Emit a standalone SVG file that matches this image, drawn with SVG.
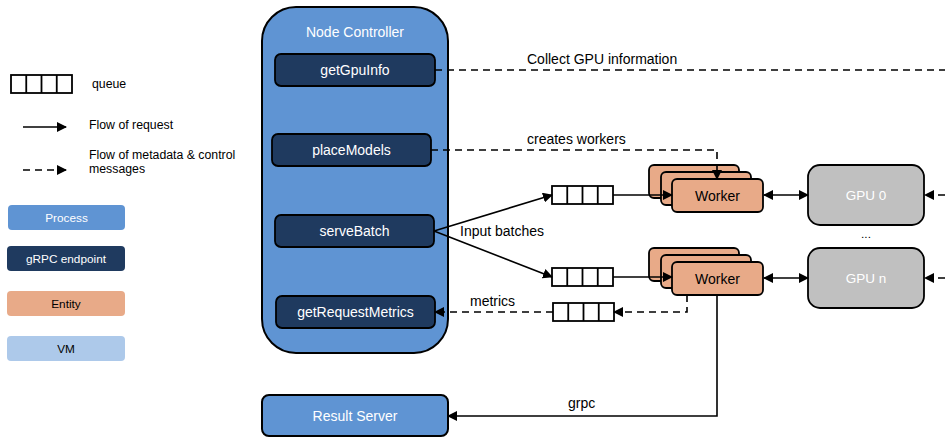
<svg xmlns="http://www.w3.org/2000/svg" width="945" height="437" viewBox="0 0 945 437">
<defs>
<marker id="ah" viewBox="0 0 10 10" refX="9" refY="5" markerWidth="10" markerHeight="10" markerUnits="userSpaceOnUse" orient="auto-start-reverse">
<path d="M0,0 L10,5 L0,10 z" fill="#000"/>
</marker>
<g id="q">
<rect x="0" y="0" width="61" height="18" fill="#fff" stroke="#000" stroke-width="1.8"/>
<path d="M15.25,0 V18 M30.5,0 V18 M45.75,0 V18" stroke="#000" stroke-width="1.8"/>
</g>
</defs>
<style>
text{font-family:"Liberation Sans",Arial,sans-serif;font-size:14px;}
.c{text-anchor:middle;}
.w{fill:#fff;}
.lg{font-size:12.3px;}
.lb{font-size:11.8px;}
.g{font-size:13.5px;}
.proc{fill:#5f94d3;stroke:#000;stroke-width:2;}
.ep{fill:#1f3a5f;stroke:#000;stroke-width:1.8;}
.ent{fill:#e8aa88;stroke:#000;stroke-width:1.8;}
.gpu{fill:#c0c0c0;stroke:#000;stroke-width:1.8;}
.s{fill:none;stroke:#000;stroke-width:1.6;}
.d{fill:none;stroke:#000;stroke-width:1.6;stroke-dasharray:7 5;}
</style>
<rect width="945" height="437" fill="#fff"/>

<g id="legend">
<use href="#q" x="11" y="75"/>
<text x="92" y="88" class="lg">queue</text>
<line x1="23" y1="127" x2="66" y2="127" class="s" marker-end="url(#ah)"/>
<text x="89" y="129" class="lg">Flow of request</text>
<line x1="23" y1="170" x2="66" y2="170" class="d" stroke-dasharray="6 5" marker-end="url(#ah)"/>
<text x="89" y="159" class="lg">Flow of metadata &amp; control</text>
<text x="89" y="173" class="lg">messages</text>
<rect x="8" y="205" width="117" height="25" rx="4" fill="#5f94d3"/>
<text x="66.5" y="222" class="c w lb">Process</text>
<rect x="7" y="246" width="118" height="25" rx="4" fill="#1f3a5f"/>
<text x="66" y="263" class="c w lb">gRPC endpoint</text>
<rect x="7" y="291" width="118" height="25" rx="4" fill="#e8aa88"/>
<text x="66" y="308" class="c lb">Entity</text>
<rect x="7" y="336" width="118" height="25" rx="4" fill="#adc9ea"/>
<text x="66" y="353" class="c lb">VM</text>
</g>

<g id="node-controller">
<rect x="262" y="7" width="186" height="346" rx="34" class="proc"/>
<text x="355" y="37" class="c w">Node Controller</text>
</g>
<g id="getGpuInfo">
<rect x="275" y="54" width="160" height="32" rx="6" class="ep"/>
<text x="355" y="75" class="c w">getGpuInfo</text>
</g>
<g id="placeModels">
<rect x="272" y="134" width="159" height="32" rx="6" class="ep"/>
<text x="351.5" y="155" class="c w">placeModels</text>
</g>
<g id="serveBatch">
<rect x="275" y="215" width="159" height="32" rx="6" class="ep"/>
<text x="354.5" y="236" class="c w">serveBatch</text>
</g>
<g id="getRequestMetrics">
<rect x="276" y="296" width="159" height="32" rx="6" class="ep"/>
<text x="355.5" y="317" class="c w">getRequestMetrics</text>
</g>
<g id="result-server">
<rect x="262" y="395" width="186" height="41" rx="7" class="proc"/>
<text x="355" y="421" class="c w">Result Server</text>
</g>

<g id="queue-1"><use href="#q" x="552" y="186"/></g>
<g id="queue-2"><use href="#q" x="552" y="268"/></g>
<g id="queue-3"><use href="#q" x="553" y="303"/></g>

<g id="workers-0">
<rect x="649" y="165" width="90" height="33" rx="5" class="ent"/>
<rect x="661" y="172" width="90" height="33" rx="5" class="ent"/>
<rect x="672" y="179" width="91" height="33" rx="5" class="ent"/>
<text x="717.5" y="201" class="c">Worker</text>
</g>
<g id="workers-n">
<rect x="649" y="248" width="90" height="33" rx="5" class="ent"/>
<rect x="661" y="255" width="90" height="33" rx="5" class="ent"/>
<rect x="672" y="262" width="91" height="33" rx="5" class="ent"/>
<text x="717.5" y="284" class="c">Worker</text>
</g>
<g id="gpu-0">
<rect x="808" y="165" width="116" height="60" rx="12" class="gpu"/>
<text x="866" y="200" class="c w g">GPU 0</text>
</g>
<g id="gpu-n">
<rect x="808" y="248" width="116" height="60" rx="12" class="gpu"/>
<text x="866" y="283" class="c w g">GPU n</text>
</g>
<text x="866" y="238" class="c lb">...</text>

<g id="connectors">
<line x1="435" y1="70" x2="945" y2="70" class="d"/>
<text x="527" y="64">Collect GPU information</text>
<polyline points="431,150 717,150 717,179" class="d" marker-end="url(#ah)"/>
<text x="527" y="144">creates workers</text>
<line x1="434" y1="231" x2="552" y2="195" class="s" marker-end="url(#ah)"/>
<line x1="434" y1="231" x2="552" y2="277" class="s" marker-end="url(#ah)"/>
<text x="460" y="236">Input batches</text>
<line x1="613" y1="195" x2="672" y2="195" class="s" marker-end="url(#ah)"/>
<line x1="613" y1="277" x2="672" y2="277" class="s" marker-end="url(#ah)"/>
<line x1="764" y1="195" x2="808" y2="195" class="s" marker-start="url(#ah)" marker-end="url(#ah)"/>
<line x1="764" y1="278" x2="808" y2="278" class="s" marker-start="url(#ah)" marker-end="url(#ah)"/>
<line x1="945" y1="195" x2="925" y2="195" class="d" marker-end="url(#ah)"/>
<line x1="945" y1="278" x2="925" y2="278" class="d" marker-end="url(#ah)"/>
<polyline points="687,295 687,312 614,312" class="d" marker-end="url(#ah)"/>
<line x1="553" y1="312" x2="435" y2="312" class="d" marker-end="url(#ah)"/>
<text x="470" y="306">metrics</text>
<polyline points="717,295 717,416 448,416" class="s" marker-end="url(#ah)"/>
<text x="568" y="408">grpc</text>
</g>
</svg>
